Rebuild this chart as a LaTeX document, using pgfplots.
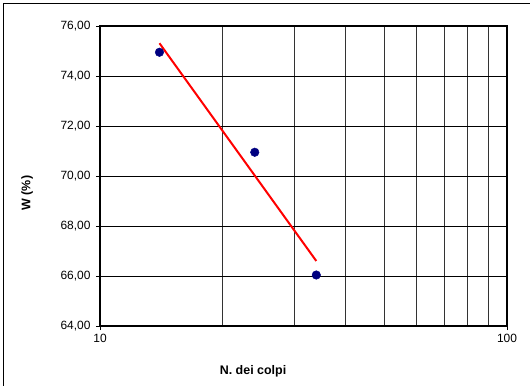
\documentclass[border=0pt]{standalone}
\usepackage{pgfplots}
\pgfplotsset{compat=1.18}
\usepackage{fontspec}
\setmainfont{Liberation Sans}
\definecolor{navy}{RGB}{0,0,128}
\begin{document}
\begin{tikzpicture}[x=1bp,y=1bp]
\useasboundingbox (-100,-59) rectangle (430,326);
\draw[line width=1bp] (-96.7,-70) -- (-96.7,322) -- (440,322);
\begin{axis}[
  at={(0,0)}, anchor=south west,
  scale only axis,
  width=407bp, height=300bp,
  xmode=log,
  xmin=10, xmax=100,
  ymin=64, ymax=76,
  xtick={10,100}, xticklabels={10,100},
  ytick={64,66,68,70,72,74,76},
  minor xtick={20,30,40,50,60,70,80,90},
  grid=both,
  major grid style={black, line width=0.8bp},
  minor grid style={black!80, line width=0.8bp},
  axis line style={line width=2.2bp},
  tick align=outside,
  major tick length=4bp,
  minor tick length=0pt,
  tick style={black, line width=0.8bp},
  xtick pos=bottom, ytick pos=left,
  ticklabel style={font=\fontsize{12}{14}\selectfont},
  yticklabel style={xshift=-2bp, /pgf/number format/.cd, fixed, fixed zerofill, precision=2, use comma, assume math mode=true},
  xticklabel style={yshift=-1bp},
  xlabel={\textbf{N. dei colpi}},
  xlabel style={at={(axis description cs:0.376,-0.152)}, anchor=center, font=\fontsize{12.5}{14}\selectfont},
  ylabel={\textbf{W (\%)}},
  ylabel style={at={(axis description cs:-0.179,0.443)}, anchor=center, font=\fontsize{12.5}{14}\selectfont},
  clip=false,
]
\addplot[red, line width=2bp] coordinates {(14,75.31) (34,66.60)};
\addplot[only marks, mark=*, mark size=4.3bp, color=navy] coordinates {(14,74.95) (24,70.95) (34,66.04)};
\end{axis}
\end{tikzpicture}
\end{document}
